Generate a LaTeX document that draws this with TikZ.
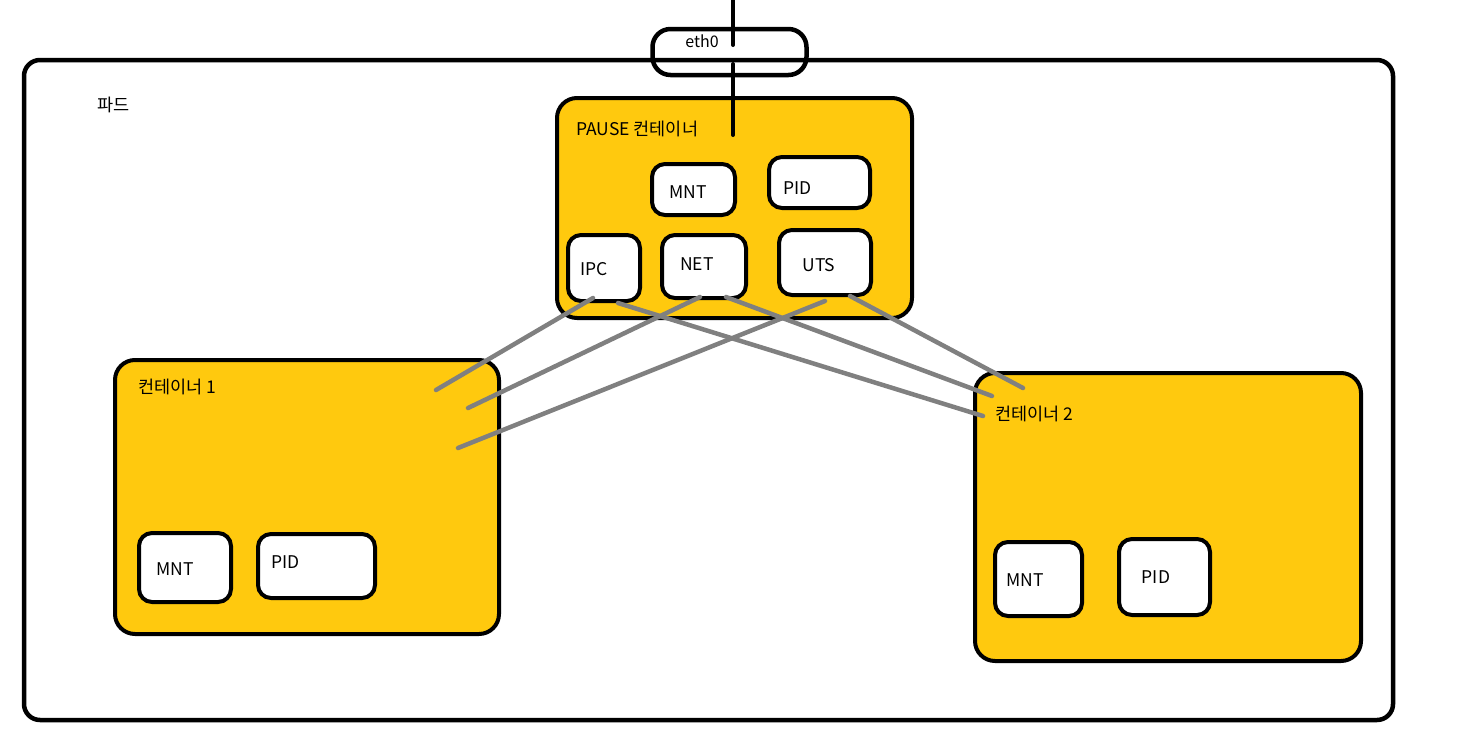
\documentclass[tikz,border=0pt]{standalone}
\usepackage{fontspec}
\setmainfont{Noto Sans CJK KR}
\definecolor{paintgold}{RGB}{255,201,14}
\definecolor{linkgray}{RGB}{128,128,128}
\begin{document}
\begin{tikzpicture}[x=1pt,y=-1pt,
  every node/.style={font=\fontsize{17.5}{20}\selectfont, text=black},
  pod/.style={draw, line width=4.5pt, rounded corners=16pt, inner sep=0pt},
  cont/.style={draw, line width=4pt, fill=paintgold, rounded corners=20pt, inner sep=0pt},
  ns/.style={draw, line width=4pt, fill=white, rounded corners=13pt, inner sep=0pt},
  lbl/.style={inner sep=0pt},
  link/.style={draw=linkgray, line width=4.5pt, line cap=round},
  wire/.style={draw=black, line width=4pt, line cap=round}]
\useasboundingbox (0,0) rectangle (1483,750);
% eth0 interface
\node[pod, rounded corners=18pt, minimum width=154pt, minimum height=46pt] (eth) at (729.5,52) {};
% pod
\node[pod, minimum width=1369pt, minimum height=660pt] (podbox) at (708.5,390) {};
\node[lbl, anchor=west] (podlbl) at (97,105) {파드};
\node[lbl, font=\fontsize{16}{19}\selectfont] (ethlbl) at (702,41) {eth0};
% pause container
\node[cont, minimum width=355pt, minimum height=220pt] (pause) at (734.5,208) {};
\node[lbl, anchor=west] (pauselbl) at (576,129) {PAUSE 컨테이너};
\node[ns, minimum width=83pt, minimum height=51pt] (pmnt) at (693.5,189.5) {};
\node[ns, minimum width=101pt, minimum height=51pt] (ppid) at (819.5,182.5) {};
\node[ns, minimum width=72pt, minimum height=66pt] (ipc) at (604,268) {};
\node[ns, minimum width=84pt, minimum height=63pt] (net) at (704,266.5) {};
\node[ns, minimum width=92pt, minimum height=65pt] (uts) at (825,262.5) {};
\node[lbl] at (688,192) {MNT};
\node[lbl, anchor=west] at (783,188) {PID};
\node[lbl, anchor=west] at (580,269) {IPC};
\node[lbl] at (697,264) {NET};
\node[lbl] at (819,265) {UTS};
% container 1
\node[cont, minimum width=384pt, minimum height=274pt] (c1) at (307,497) {};
\node[lbl, anchor=west] (c1lbl) at (138,387) {컨테이너 1};
\node[ns, minimum width=92pt, minimum height=69pt] (mnt1) at (185,567.5) {};
\node[ns, minimum width=117pt, minimum height=64pt] (pid1) at (316.5,566) {};
\node[lbl] at (175,569) {MNT};
\node[lbl, anchor=west] at (271,562) {PID};
% container 2
\node[cont, minimum width=386pt, minimum height=288pt] (c2) at (1168,517) {};
\node[lbl, anchor=west] (c2lbl) at (995,414) {컨테이너 2};
\node[ns, minimum width=87pt, minimum height=74pt] (mnt2) at (1038.5,579) {};
\node[ns, minimum width=91pt, minimum height=76pt] (pid2) at (1164.5,577) {};
\node[lbl] at (1025,580) {MNT};
\node[lbl] at (1156,577) {PID};
% wire through eth0
\coordinate (wtop) at (733,-2);
\coordinate (wa) at (733,45);
\coordinate (wb) at (733,64);
\coordinate (wc) at (733,135);
\draw[wire] (wtop) -- (wa);
\draw[wire] (wb) -- (wc);
% namespace links
\coordinate (ipcA) at (593,298);
\coordinate (ipcB) at (618,303);
\coordinate (netA) at (700,297);
\coordinate (netB) at (726,297);
\coordinate (utsA) at (825,301);
\coordinate (utsB) at (850,296);
\coordinate (c1a) at (436,390);
\coordinate (c1b) at (468,408);
\coordinate (c1c) at (458,448);
\coordinate (c2a) at (983,416);
\coordinate (c2b) at (992,396);
\coordinate (c2c) at (1023,388);
\draw[link] (ipcA) -- (c1a);
\draw[link] (netA) -- (c1b);
\draw[link] (utsA) -- (c1c);
\draw[link] (ipcB) -- (c2a);
\draw[link] (netB) -- (c2b);
\draw[link] (utsB) -- (c2c);
\end{tikzpicture}
\end{document}
